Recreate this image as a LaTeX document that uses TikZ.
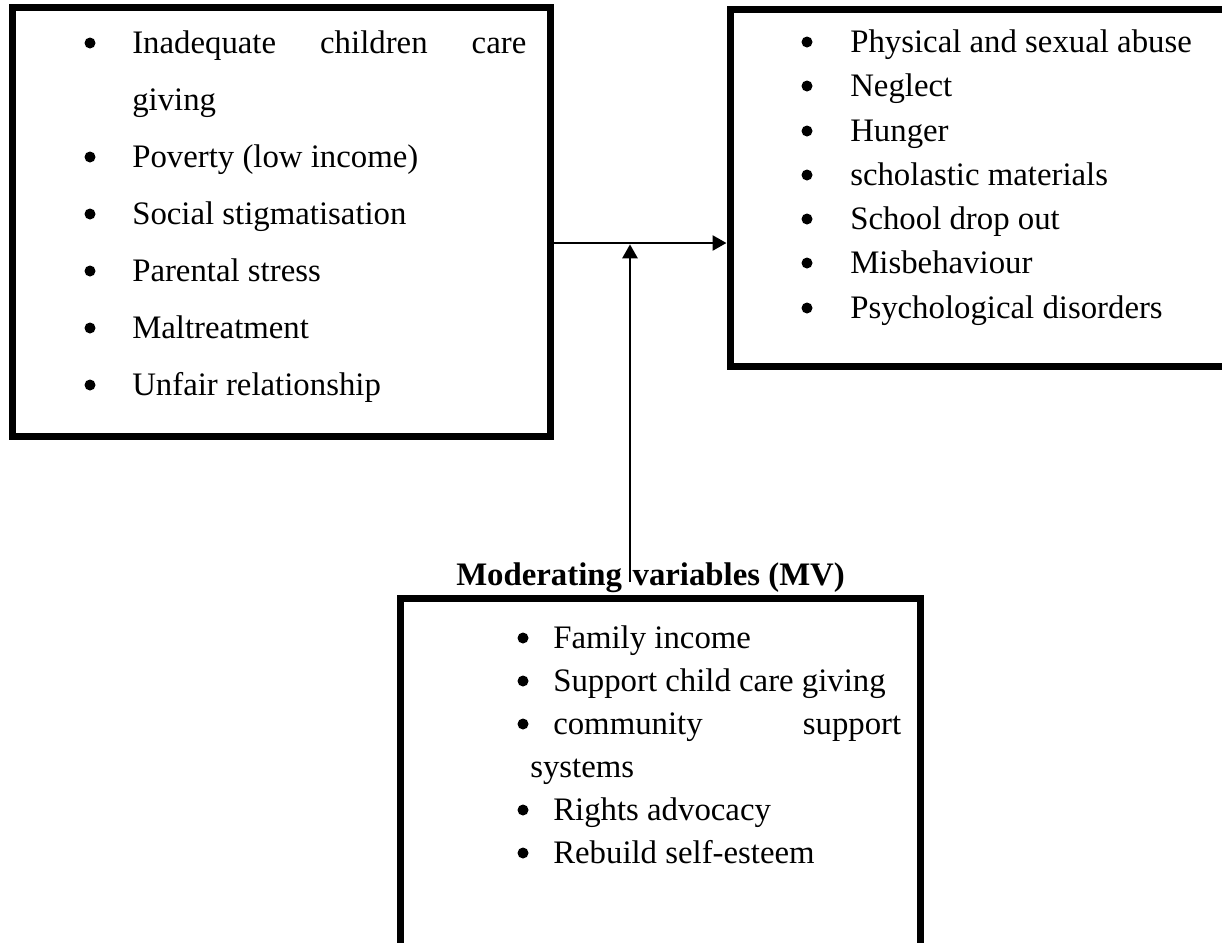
\documentclass[tikz,border=0pt]{standalone}
\usepackage{fontspec}
\setmainfont{Liberation Serif}
\usetikzlibrary{arrows.meta}

\tikzset{
  varbox/.style={draw, line width=5.25pt, inner sep=0pt},
  link/.style={line width=2pt, -{Triangle[length=10.5pt,width=11.25pt]}},
  item/.style={anchor=base west, inner sep=0pt, font=\fontsize{24.6}{29}\selectfont},
  mvtitle/.style={anchor=base west, inner sep=0pt, font=\fontsize{24.6}{29}\selectfont\bfseries}
}

\begin{document}
\begin{tikzpicture}[x=0.75pt,y=0.75pt,yscale=-1,xscale=1]
\useasboundingbox (0,0) rectangle (1222,943);
\clip (0,0) rectangle (1222,943);

%Shape: Rectangle [id:iv] 
\node (iv) [varbox, minimum width=403.5pt, minimum height=321.75pt] at (281,221.5) {};
%Shape: Rectangle [id:dv] 
\node (dv) [varbox, minimum width=397.5pt, minimum height=267.75pt] at (995,187.5) {};
%Shape: Rectangle [id:mv] 
\node (mv) [varbox, minimum width=390pt, minimum height=286.5pt] at (660,789) {};

\coordinate (join) at (630,243);
\coordinate (mvtop) at (630,582);

%Straight Lines [id:iv-dv] 
\draw [link] (iv.east |- join) -- (dv.west |- join);
%Straight Lines [id:mv-join] 
\draw [link, shorten >=1pt] (mvtop) -- (join);

%Bullets
\fill (90,43) circle [radius=5.5];
\fill (90,157) circle [radius=5.5];
\fill (90,214) circle [radius=5.5];
\fill (90,271) circle [radius=5.5];
\fill (90,328) circle [radius=5.5];
\fill (90,385) circle [radius=5.5];
\fill (807,42) circle [radius=5.5];
\fill (807,86) circle [radius=5.5];
\fill (807,131) circle [radius=5.5];
\fill (807,175) circle [radius=5.5];
\fill (807,219) circle [radius=5.5];
\fill (807,263) circle [radius=5.5];
\fill (807,308) circle [radius=5.5];
\fill (523,638) circle [radius=5.5];
\fill (523,681) circle [radius=5.5];
\fill (523,724) circle [radius=5.5];
\fill (523,810) circle [radius=5.5];
\fill (523,853) circle [radius=5.5];

% Text Node
\draw (132,53) node (iv1) [item] {\makebox[295.5pt][s]{Inadequate children care}};
% Text Node
\draw (132,110) node (iv1b) [item] {giving};
% Text Node
\draw (132,167) node (iv2) [item] {Poverty (low income)};
% Text Node
\draw (132,224) node (iv3) [item] {Social stigmatisation};
% Text Node
\draw (132,281) node (iv4) [item] {Parental stress};
% Text Node
\draw (132,338) node (iv5) [item] {Maltreatment};
% Text Node
\draw (132,395) node (iv6) [item] {Unfair relationship};

% Text Node
\draw (850,52) node (dv1) [item] {Physical and sexual abuse};
% Text Node
\draw (850,96) node (dv2) [item] {Neglect};
% Text Node
\draw (850,141) node (dv3) [item] {Hunger};
% Text Node
\draw (850,185) node (dv4) [item] {scholastic materials};
% Text Node
\draw (850,229) node (dv5) [item] {School drop out};
% Text Node
\draw (850,273) node (dv6) [item] {Misbehaviour};
% Text Node
\draw (850,318) node (dv7) [item] {Psychological disorders};

% Text Node
\draw (456,585) node (mvhead) [mvtitle] {Moderating\hspace{7.9pt}variables (MV)};
% Text Node
\draw (553,648) node (mv1) [item] {Family income};
% Text Node
\draw (553,691) node (mv2) [item] {Support child care giving};
% Text Node
\draw (553,734) node (mv3) [item] {\makebox[261pt][s]{community support}};
% Text Node
\draw (530,777) node (mv3b) [item] {systems};
% Text Node
\draw (553,820) node (mv4) [item] {Rights advocacy};
% Text Node
\draw (553,863) node (mv5) [item] {Rebuild self-esteem};

\end{tikzpicture}
\end{document}
